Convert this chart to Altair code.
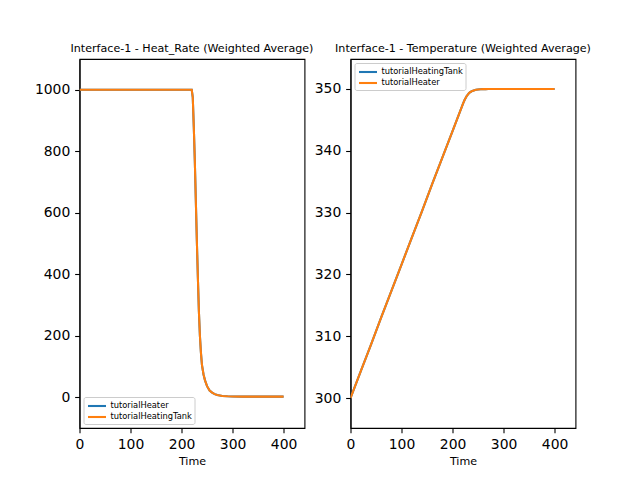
import altair as alt
import pandas as pd

# ---- data ----
time = [0, 20, 40, 60, 80, 100, 120, 140, 160, 180, 200, 220,
        222, 224, 226, 228, 230, 232, 234, 236, 238, 240,
        243, 246, 250, 255, 260, 265, 270, 280, 290, 300, 320, 340, 360, 380, 400]

heat_rate_heater = [1000, 1000, 1000, 1000, 1000, 1000, 1000, 1000, 1000, 1000, 1000, 1000,
                    975, 880, 770, 640, 510, 390, 280, 200, 145, 105,
                    75, 55, 36, 22, 15, 10, 7, 4, 3, 2.5, 2, 2, 2, 2, 2]
heat_rate_tank = [1000, 1000, 1000, 1000, 1000, 1000, 1000, 1000, 1000, 1000, 1000, 1000,
                  975, 880, 770, 640, 510, 390, 280, 200, 145, 105,
                  75, 55, 36, 22, 15, 10, 7, 4, 3, 2.5, 2, 2, 2, 2, 2]

temp_tank = [300, 304.3, 308.6, 313.0, 317.3, 321.6, 325.9, 330.2, 334.6, 338.9, 343.2, 347.5,
             347.9, 348.3, 348.6, 348.9, 349.1, 349.3, 349.45, 349.55, 349.65, 349.72,
             349.8, 349.86, 349.91, 349.95, 349.97, 349.98, 349.99, 350, 350, 350, 350, 350, 350, 350, 350]
temp_heater = [300, 304.3, 308.6, 313.0, 317.3, 321.6, 325.9, 330.2, 334.6, 338.9, 343.2, 347.5,
               347.9, 348.3, 348.6, 348.9, 349.1, 349.3, 349.45, 349.55, 349.65, 349.72,
               349.8, 349.86, 349.91, 349.95, 349.97, 349.98, 349.99, 350, 350, 350, 350, 350, 350, 350, 350]

x_ticks = [0, 100, 200, 300, 400]
hr_ticks = [0, 200, 400, 600, 800, 1000]
temp_ticks = [300, 310, 320, 330, 340, 350]

left_names = ["tutorialHeater", "tutorialHeatingTank"]
right_names = ["tutorialHeatingTank", "tutorialHeater"]

BLUE = "#1f77b4"
ORANGE = "#ff7f0e"
FONT = "DejaVu Sans"

n = len(time)
hr_df = pd.DataFrame({
    "Time": time + time,
    "Value": heat_rate_heater + heat_rate_tank,
    "Series": ["tutorialHeater"] * n + ["tutorialHeatingTank"] * n,
})
temp_df = pd.DataFrame({
    "Time": time + time,
    "Value": temp_tank + temp_heater,
    "Series": ["tutorialHeatingTank"] * n + ["tutorialHeater"] * n,
})


def panel(df, names, title, ydom, yticks, legend_orient):
    color = alt.Color(
        "Series:N",
        scale=alt.Scale(domain=names, range=[BLUE, ORANGE]),
        legend=alt.Legend(
            title=None, orient=legend_orient, offset=4,
            fillColor="white", strokeColor="#cccccc", cornerRadius=2,
            padding=2.5, symbolType="M-1.8,0H1.8", symbolSize=100,
            symbolStrokeWidth=2.08, symbolOffset=4.5, labelOffset=7,
            labelFontSize=8.3, labelFont=FONT, labelColor="black",
            rowPadding=0, labelLimit=300,
        ),
    )
    x = alt.X("Time:Q",
              scale=alt.Scale(domain=[0, 441], nice=False, zero=False),
              axis=alt.Axis(values=x_ticks, title="Time", grid=False, format="d",
                            labelFlush=False))
    y = alt.Y("Value:Q",
              scale=alt.Scale(domain=ydom, nice=False, zero=False),
              axis=alt.Axis(values=yticks, title=None, grid=False, format="d",
                            labelFlush=False))
    layers = [
        alt.Chart(df).transform_filter(alt.datum.Series == nm)
        .mark_line(strokeWidth=2.08, clip=True)
        .encode(x=x, y=y, color=color)
        for nm in names
    ]
    return alt.layer(*layers).properties(
        width=225, height=369,
        title=alt.TitleParams(title, fontSize=11.1, font=FONT, fontWeight="normal",
                              color="black", frame="group", anchor="middle",
                              baseline="alphabetic", offset=-4),
    )


left = panel(hr_df, left_names, "Interface-1 - Heat_Rate (Weighted Average)",
             [-100, 1100], hr_ticks, "bottom-left")
right = panel(temp_df, right_names, "Interface-1 - Temperature (Weighted Average)",
              [295.15, 354.85], temp_ticks, "top-left")

chart = alt.hconcat(left, right, spacing=46, bounds="flush").resolve_scale(
    color="independent", x="independent", y="independent"
).properties(
    padding={"left": 33.5, "top": 42, "right": 5, "bottom": 5},
    background="white",
).configure_view(
    stroke="black", strokeWidth=1.1
).configure_axis(
    labelFont=FONT, labelFontSize=13.9, labelColor="black",
    tickColor="black", tickSize=4.86, tickWidth=1.1, labelPadding=4.86,
    domainColor="black", domainWidth=1.1,
    titleFont=FONT, titleFontSize=11.1, titleFontWeight="normal", titleColor="black",
    titlePadding=4,
)

chart.save("out.html", embed_options={"renderer": "svg", "actions": False})
